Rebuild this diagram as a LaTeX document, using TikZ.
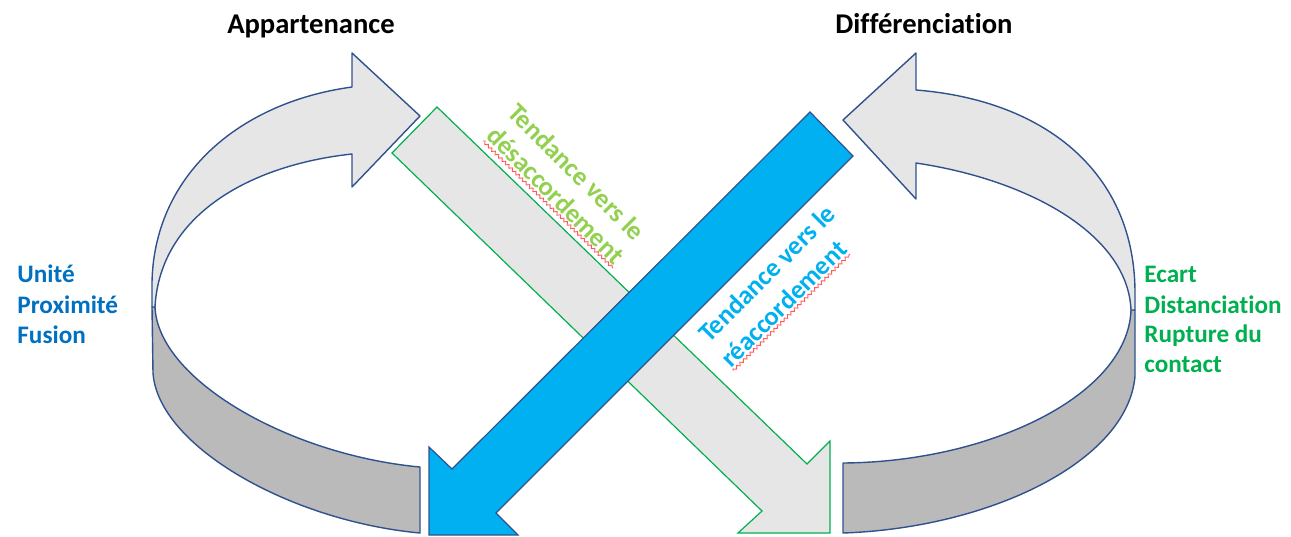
\documentclass[tikz,border=0pt]{standalone}
\usepackage{fontspec}
\setmainfont{Carlito}[Ligatures={NoCommon}]
\usetikzlibrary{decorations.pathmorphing}
\definecolor{loopblue}{HTML}{2F528F}
\definecolor{lightfill}{HTML}{E7E6E6}
\definecolor{bandfill}{HTML}{BABABA}
\definecolor{arrgreen}{HTML}{00B050}
\definecolor{arrblue}{HTML}{00B0F0}
\definecolor{txtblue}{HTML}{0070C0}
\definecolor{txtgreen}{HTML}{00B050}
\definecolor{lightgreen}{HTML}{92D050}
\definecolor{squigred}{HTML}{FF5A5A}
\tikzset{
  loopline/.style={draw=loopblue, line width=0.7pt, line join=round},
  greenarrow/.style={draw=arrgreen, line width=0.6pt, fill=lightfill, line join=miter},
  bluearrow/.style={draw=loopblue, line width=0.6pt, fill=arrblue, line join=miter},
  titletxt/.style={inner sep=0pt, font=\bfseries\fontsize{14.3}{17}\selectfont, text=black},
  sidetxt/.style={inner sep=0pt, anchor=base west, font=\bfseries\fontsize{12.6}{15}\selectfont},
  diagtxt/.style={inner sep=0pt, anchor=base west, font=\bfseries\fontsize{13.2}{16}\selectfont},
  squig/.style={draw=squigred, line width=0.45pt, decorate, decoration={snake, segment length=2.4pt, amplitude=0.7pt}}
}
\begin{document}
\begin{tikzpicture}[x=0.5pt,y=-0.5pt]
\useasboundingbox (0,0) rectangle (1291,536);
% ---- left loop ----
\path[loopline, fill=bandfill] (155,307) .. controls (158,380) and (290,455) .. (420,467)
  -- (420,533) .. controls (290,521) and (158,446) .. (153,373) -- (152,307) -- cycle;
\path[loopline, fill=lightfill] (152,307) -- (152,290) .. controls (150,180) and (235,103) .. (352,87)
  -- (352,53) -- (420,116) -- (352,187) -- (352,154)
  .. controls (250,165) and (160,215) .. (155,307) -- cycle;
% ---- right loop ----
\path[loopline, fill=bandfill] (1131,310) .. controls (1128,395) and (990,462) .. (843,463)
  -- (843,533) .. controls (990,528) and (1128,461) .. (1135,376) -- (1135,310) -- cycle;
\path[loopline, fill=lightfill] (1135,310) -- (1135,295) .. controls (1136,172) and (1044,100) .. (916,90)
  -- (916,53) -- (843,120) -- (916,199) -- (916,163)
  .. controls (1030,180) and (1128,235) .. (1131,310) -- cycle;
% ---- diagonal arrows ----
\path[greenarrow] (437,107) -- (807,464) -- (830,441) -- (830,533) -- (738,533) -- (762,511) -- (392,153) -- cycle;
\path[bluearrow] (810,112) -- (853,156) -- (496,513) -- (518,535) -- (429,535) -- (429,447) -- (452,469) -- cycle;
% ---- titles ----
\node[titletxt, anchor=base] (app) at (311,33) {Appartenance};
\node[titletxt, anchor=base] (diff) at (924,33) {Différenciation};
% ---- side texts ----
\node[sidetxt, text=txtblue] (l1) at (17,282) {Unité};
\node[sidetxt, text=txtblue] (l2) at (17,313) {Proximité};
\node[sidetxt, text=txtblue] (l3) at (17,343) {Fusion};
\node[sidetxt, text=txtgreen] (r1) at (1144,282) {Ecart};
\node[sidetxt, text=txtgreen] (r2) at (1144,313) {Distanciation};
\node[sidetxt, text=txtgreen] (r3) at (1144,342) {Rupture du};
\node[sidetxt, text=txtgreen] (r4) at (1144,372) {contact};
% ---- diagonal texts ----
\node[diagtxt, text=lightgreen, rotate=-45] (g1) at (506,114) {Tendance vers le};
\node[diagtxt, text=lightgreen, rotate=-45] (g2) at (485,137) {désaccordement};
\node[diagtxt, text=arrblue, rotate=45] (b1) at (709,344) {Tendance vers le};
\node[diagtxt, text=arrblue, rotate=45] (b2) at (731,369) {réaccordement};
% ---- spell-check squiggles ----
\coordinate (sqga) at (483,141);
\coordinate (sqgb) at (613,268);
\coordinate (sqba) at (733,371);
\coordinate (sqbb) at (850,254);
\draw[squig] (sqga) -- (sqgb);
\draw[squig] (sqba) -- (sqbb);
\end{tikzpicture}
\end{document}
